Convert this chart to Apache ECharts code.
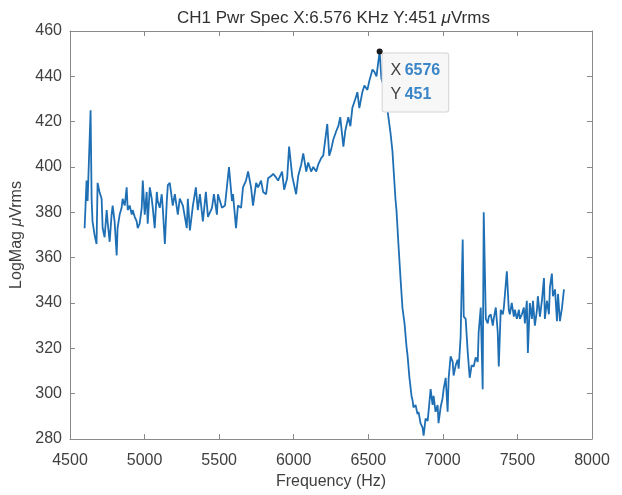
<!DOCTYPE html>
<html>
<head>
<meta charset="utf-8">
<script src="https://cdn.jsdelivr.net/npm/echarts@6/dist/echarts.min.js"></script>
<style>html,body{margin:0;padding:0;background:#fff;}#c{width:622px;height:495px;}</style>
</head>
<body>
<div id="c"></div>
<script>
// Frequencies (Hz) and magnitudes (µVrms)
const freqs = [4598,4611,4618,4638,4645,4651,4665,4678,4685,4698,
4712,4719,4732,4746,4752,4766,4779,4786,4799,4813,
4819,4833,4846,4853,4867,4880,4887,4900,4914,4920,
4934,4947,4954,4967,4981,4988,5001,5014,5021,5035,
5048,5055,5068,5082,5088,5102,5115,5122,5136,5149,
5156,5169,5183,5189,5203,5223,5236,5257,5283,5290,
5304,5324,5344,5357,5371,5391,5411,5425,5452,5465,
5485,5492,5519,5539,5566,5586,5593,5613,5626,5647,
5660,5680,5694,5714,5727,5748,5761,5781,5795,5815,
5828,5848,5862,5875,5895,5922,5936,5956,5969,5990,
6016,6030,6050,6064,6084,6097,6117,6131,6151,6164,
6185,6198,6225,6238,6252,6265,6286,6299,6312,6333,
6346,6366,6380,6393,6413,6427,6440,6460,6474,6494,
6507,6528,6541,6555,6576,6588,6602,6615,6629,6649,
6662,6682,6689,6702,6716,6729,6743,6756,6763,6776,
6790,6797,6803,6817,6830,6837,6850,6864,6871,6884,
6898,6904,6918,6931,6938,6951,6965,6971,6985,6998,
7005,7019,7032,7039,7052,7066,7072,7086,7099,7106,
7119,7133,7140,7153,7166,7180,7193,7207,7220,7234,
7240,7254,7267,7274,7288,7301,7308,7321,7335,7341,
7355,7368,7375,7388,7402,7409,7429,7442,7449,7462,
7476,7483,7496,7510,7516,7530,7543,7550,7563,7570,
7583,7597,7604,7617,7631,7637,7651,7664,7678,7684,
7698,7711,7718,7731,7738,7752,7765,7772,7785,7799,
7812];
const mags = [373,394,385,425,386,376,370,366,393,389,
386,373,369,381,376,367,379,383,376,361,
373,379,382,386,383,391,381,383,379,381,
378,376,373,375,382,394,379,389,375,391,
386,382,373,389,385,382,388,382,366,385,
392,393,386,383,388,379,386,383,373,386,
372,383,391,381,388,376,389,378,382,388,
379,388,382,383,400,385,388,373,383,382,
391,394,398,391,383,393,391,394,389,388,
395,396,397,396,394,398,390,395,409,396,
388,396,401,406,398,402,398,400,398,401,
404,405,419,405,408,412,416,418,422,409,
416,422,418,426,430,433,426,433,436,434,
438,443,442,440,451,439,436,430,425,415,
407,386,381,366,351,338,331,321,317,307,
299,297,294,295,291,292,287,285,281.5,289,
288,292,302,295,299,292,295,287,294,298,
302,307,292,307,316.5,314,308,312.5,315,311,
325,368,334,333,319,307,312.5,312,316,314,
327,338,302,380,333,331,334,335,330,333,
338,327,312,337,335,338,354,337,335,340,
334,337,333,337,333,335,338,331,341,318,
340,333,341,330,337,343,334,341,351,333,
341,335,347,353,343,346,332,344,332,338,
346];
const xTicks = [4500,5000,5500,6000,6500,7000,7500,8000];
const yTicks = [280,300,320,340,360,380,400,420,440,460];
const tipX = 6576, tipY = 451;

const txt = '#404040', frame = '#8a8a8a';
const font = 'Liberation Sans, Arial, Helvetica, sans-serif';
const chart = echarts.init(document.getElementById('c'), null, {renderer:'canvas'});
const axisCommon = {
  axisLine:{show:true,lineStyle:{color:frame,width:1}},
  axisTick:{show:true,inside:true,length:5,lineStyle:{color:frame}},
  splitLine:{show:false}
};
chart.setOption({
  animation:false,
  backgroundColor:'#fff',
  title:{
    text:'CH1 Pwr Spec X:6.576 KHz Y:451 {i|μ}Vrms',
    left:172, top:5,
    textStyle:{fontFamily:font,fontSize:17,fontWeight:'normal',color:'#303030',
      rich:{i:{fontFamily:font,fontSize:17,fontStyle:'italic',color:'#303030'}}}
  },
  grid:{left:70,right:30,top:31,bottom:54,containLabel:false},
  xAxis:[Object.assign({
    type:'value',min:4500,max:8000,interval:500,
    name:'Frequency (Hz)',nameLocation:'middle',nameGap:35,
    nameTextStyle:{fontFamily:font,fontSize:16,color:txt},
    axisLabel:{fontFamily:font,fontSize:16,color:txt,margin:14,
      formatter:v=>xTicks.includes(v)?String(v):''}
  },axisCommon),Object.assign({
    type:'value',min:4500,max:8000,interval:500,position:'top',axisLabel:{show:false}
  },axisCommon)],
  yAxis:[Object.assign({
    type:'value',min:280,max:460,interval:20,
    name:'LogMag {i|μ}Vrms',nameLocation:'middle',nameGap:44,
    nameTextStyle:{fontFamily:font,fontSize:16,color:txt,
      rich:{i:{fontFamily:font,fontSize:16,fontStyle:'italic',color:txt}}},
    axisLabel:{fontFamily:font,fontSize:16,color:txt,margin:8,
      formatter:v=>yTicks.includes(v)?String(v):''}
  },axisCommon),Object.assign({
    type:'value',min:280,max:460,interval:20,position:'right',axisLabel:{show:false}
  },axisCommon)],
  series:[{
    type:'line',
    data:freqs.map((f,i)=>[f,mags[i]]),
    showSymbol:false,
    lineStyle:{color:'#1f6fb5',width:1.8},
    markPoint:{
      symbol:'circle',symbolSize:6,
      itemStyle:{color:'#1a1a1a'},
      data:[{coord:[tipX,tipY],
        label:{show:true,position:[6,5],
          formatter:'{a|X} {b|'+tipX+'}\n{a|Y} {b|'+tipY+'}',
          backgroundColor:'#f7f7f7',borderColor:'#d4d4d4',borderWidth:1,borderRadius:2,
          padding:[5,8,5,8],lineHeight:24,
          rich:{
            a:{fontFamily:font,fontSize:16,color:'#404040',lineHeight:24},
            b:{fontFamily:font,fontSize:16,fontWeight:'bold',color:'#3a86c8',lineHeight:24}
          }}
      }]
    }
  }]
});
</script>
</body>
</html>
